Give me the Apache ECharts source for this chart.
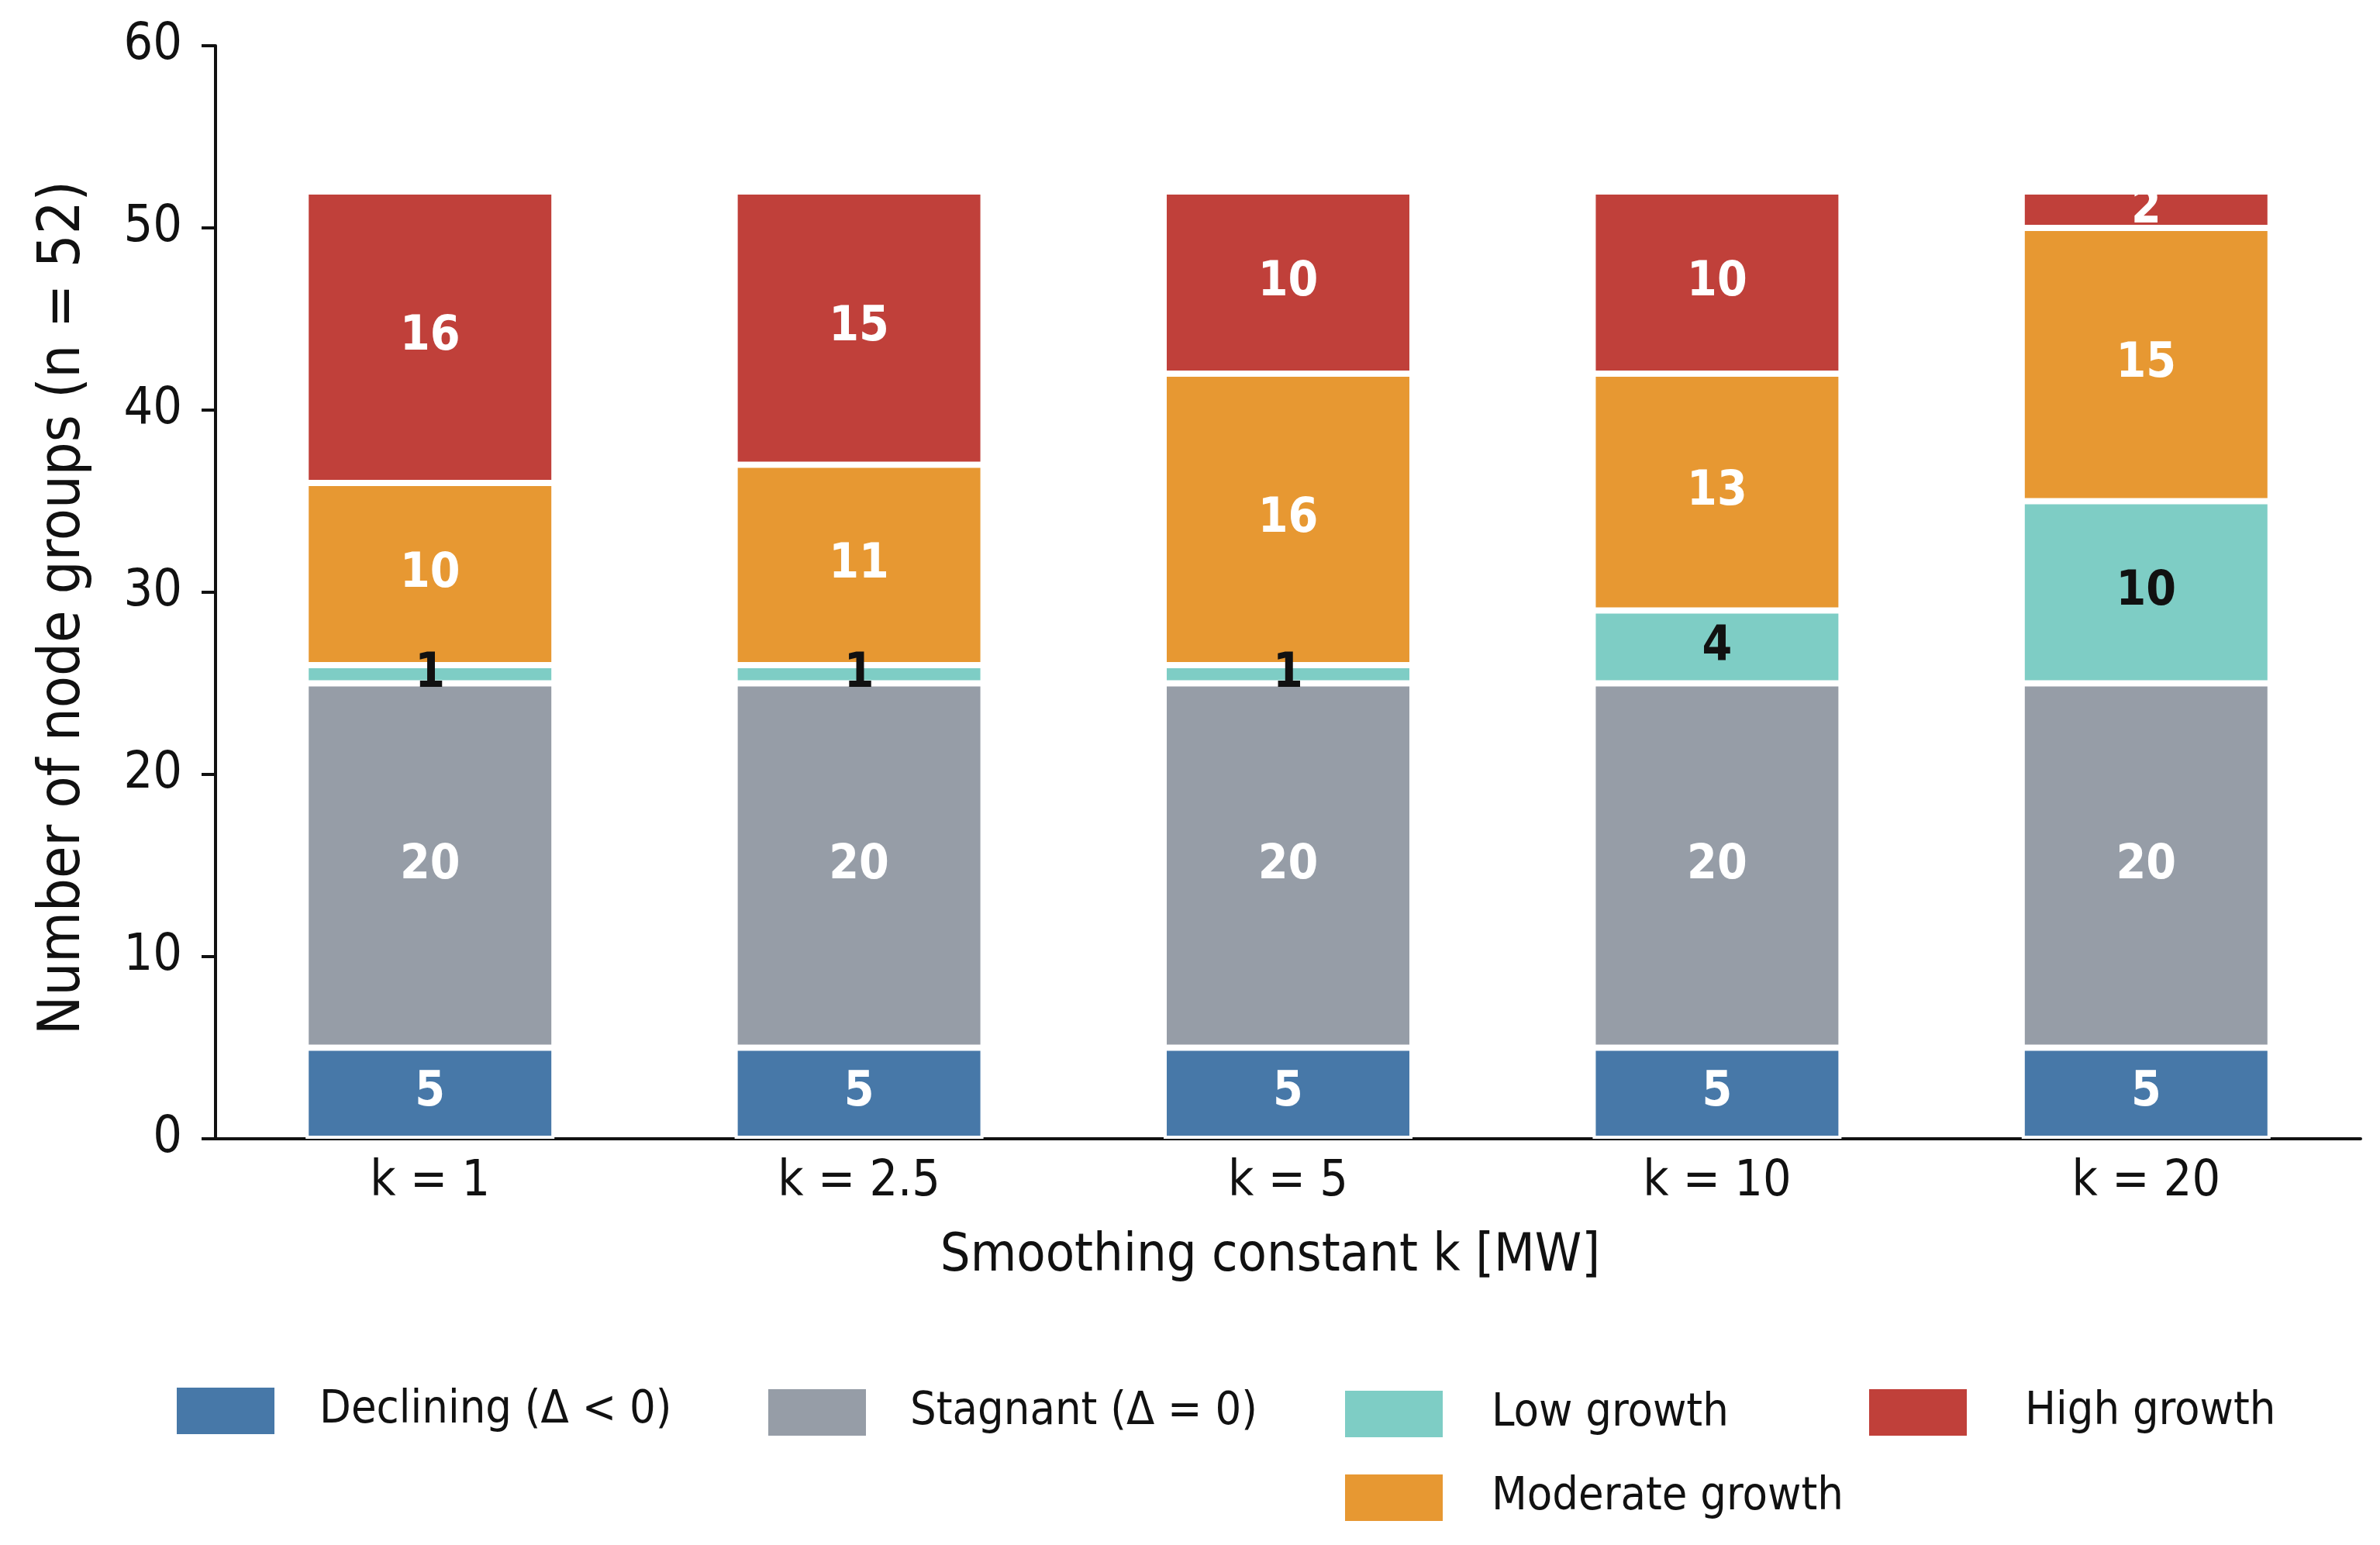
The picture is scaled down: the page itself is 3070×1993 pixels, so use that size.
<!DOCTYPE html>
<html>
<head>
<meta charset="utf-8">
<title>Node groups by smoothing constant</title>
<script src="https://cdn.jsdelivr.net/npm/echarts@6/dist/echarts.min.js"></script>
<style>
  html, body { margin: 0; padding: 0; background: #fff; }
  #chart { width: 3070px; height: 1993px; }
</style>
</head>
<body>
<div id="chart"></div>
<script>
// categories (x axis)
var kLabels = ['k = 1', 'k = 2.5', 'k = 5', 'k = 10', 'k = 20'];

// counts per class, one value per k
var declining = [5, 5, 5, 5, 5];
var stagnant  = [20, 20, 20, 20, 20];
var lowGrowth = [1, 1, 1, 4, 10];
var moderateGrowth = [10, 11, 16, 13, 15];
var highGrowth = [16, 15, 10, 10, 2];

var yTicks = [0, 10, 20, 30, 40, 50, 60];

var chart = echarts.init(document.getElementById('chart'));

var font = "'DejaVu Sans Condensed', 'DejaVu Sans'";

function barSeries(name, data, color, labelColor) {
    return {
        name: name,
        type: 'bar',
        stack: 'all',
        data: data,
        barCategoryGap: '42%',
        itemStyle: { color: color, borderColor: '#ffffff', borderWidth: 4 },
        label: {
            show: true,
            position: 'inside',
            color: labelColor,
            fontFamily: font,
            fontWeight: 'bold',
            fontSize: 62
        },
        emphasis: { disabled: true }
    };
}

// one legend block per entry so the 4 + 1 layout can be reproduced
function legendItem(name, left, top, gap) {
    return {
        data: [name],
        left: left,
        top: top,
        padding: 0,
        itemWidth: 126,
        itemHeight: 60,
        selectedMode: false,
        icon: 'rect',
        itemStyle: { borderWidth: 0 },
        textStyle: {
            fontFamily: font,
            fontSize: 59,
            color: '#111',
            padding: [0, 0, 0, gap]
        }
    };
}

var option = {
    backgroundColor: '#ffffff',
    animation: false,
    grid: {
        left: 278,
        right: 25,
        top: 59,
        bottom: 524
    },
    legend: [
        legendItem('Declining (Δ < 0)', 228, 1790, 53),
        legendItem('Stagnant (Δ = 0)', 991, 1792, 52),
        legendItem('Low growth', 1735, 1794, 58),
        legendItem('High growth', 2411, 1792, 70),
        legendItem('Moderate growth', 1735, 1902, 58)
    ],
    xAxis: {
        type: 'category',
        data: kLabels,
        name: 'Smoothing constant k [MW]',
        nameLocation: 'middle',
        nameGap: 118,
        nameTextStyle: {
            fontFamily: font,
            fontSize: 68,
            color: '#111',
            padding: [0, 46, 0, 0]
        },
        axisLine: { lineStyle: { color: '#111', width: 4 } },
        axisTick: { show: false },
        axisLabel: {
            margin: 24,
            fontFamily: font,
            fontSize: 64,
            color: '#111'
        }
    },
    yAxis: {
        type: 'value',
        min: yTicks[0],
        max: yTicks[yTicks.length - 1],
        interval: 10,
        name: 'Number of node groups (n = 52)',
        nameLocation: 'middle',
        nameGap: 158,
        nameTextStyle: {
            fontFamily: font,
            fontSize: 75,
            color: '#111',
            padding: [0, 40, 0, 0]
        },
        splitLine: { show: false },
        axisLine: { show: true, lineStyle: { color: '#111', width: 4 } },
        axisTick: { show: true, length: 18, lineStyle: { color: '#111', width: 4 } },
        axisLabel: {
            margin: 43,
            fontFamily: font,
            fontSize: 66,
            color: '#111'
        }
    },
    series: [
        barSeries('Declining (Δ < 0)', declining, '#4778a8', '#ffffff'),
        barSeries('Stagnant (Δ = 0)', stagnant, '#969da7', '#ffffff'),
        barSeries('Low growth', lowGrowth, '#7ecdc5', '#111111'),
        barSeries('Moderate growth', moderateGrowth, '#e79832', '#ffffff'),
        barSeries('High growth', highGrowth, '#c0403a', '#ffffff')
    ]
};

chart.setOption(option);
</script>
</body>
</html>
